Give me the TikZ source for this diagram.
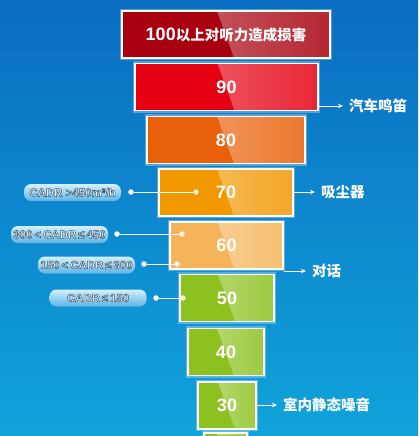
\documentclass[tikz,border=0pt]{standalone}
\usepackage{fontspec}
\setmainfont{Liberation Sans}
\newfontfamily\cjk{Noto Sans CJK SC}
\usepackage{tikz}
\usetikzlibrary{arrows.meta,positioning}

\definecolor{bgtop}{HTML}{0A6DC1}
\definecolor{bgbottom}{HTML}{10A3DA}
\definecolor{lvldark}{HTML}{A8000E}
\definecolor{lvlred}{HTML}{E50012}
\definecolor{lvlorange}{HTML}{E8610A}
\definecolor{lvlamber}{HTML}{F19700}
\definecolor{lvllight}{HTML}{F5B459}
\definecolor{lvlgreen}{HTML}{8CC11F}
\definecolor{pilltop}{HTML}{D6F0FB}
\definecolor{pillbottom}{HTML}{5AB4E6}

\newcommand\outlined[1]{\special{pdf:code q 0.22 0.32 0.42 RG 0.5 w 2 Tr}#1\special{pdf:code Q}}

\begin{document}
\begin{tikzpicture}[x=1pt, y=-1pt,
  lvl/.style={draw=white, line width=1.4pt, fill=#1, text=white, minimum height=47pt, inner sep=0pt,
    font=\fontsize{18}{18}\selectfont\bfseries,
    preaction={draw=white, opacity=.3, line width=4.5pt},
    path picture={\fill[left color=#1!55!white, right color=#1!85!white]
      ([xshift=-9pt]path picture bounding box.north) -- (path picture bounding box.north east)
      -- (path picture bounding box.south east) -- ([xshift=8pt]path picture bounding box.south) -- cycle;}},
  note/.style={text=white, anchor=west, inner sep=1pt, font=\cjk\fontsize{14.5}{15}\selectfont\bfseries},
  arr/.style={white, line width=0.8pt, shorten >=5pt, -{Stealth[length=5pt,width=4.5pt]}},
  pill/.style={rounded corners=7pt, top color=pilltop, bottom color=pillbottom, minimum width=97pt,
    minimum height=17pt, inner sep=0pt, text=white, font=\fontsize{11.5}{12}\selectfont\bfseries},
  dot/.style={circle, fill=white, inner sep=0pt, minimum size=5.5pt},
  link/.style={white, line width=0.8pt}]

\useasboundingbox (0,0) rectangle (418,436);
\clip (0,0) rectangle (418,436);
\shade[top color=bgtop, bottom color=bgbottom] (0,0) rectangle (418,436);

\node[lvl=lvldark, minimum width=208pt] (b100) at (226,34.5) {100\cjk\fontsize{14.5}{15}\selectfont 以上对听力造成损害};
\node[lvl=lvlred, minimum width=183pt] (b90) at (226.5,87) {90};
\node[lvl=lvlorange, minimum width=158pt] (b80) at (226,140) {80};
\node[lvl=lvlamber, minimum width=134pt] (b70) at (226,192.5) {70};
\node[lvl=lvllight, minimum width=113pt] (b60) at (226.5,245.5) {60};
\node[lvl=lvlgreen, minimum width=94pt] (b50) at (227,298) {50};
\node[lvl=lvlgreen, minimum width=76pt] (b40) at (226,352) {40};
\node[lvl=lvlgreen, minimum width=58pt] (b30) at (227,405.5) {30};
\node[lvl=lvlgreen, minimum width=43pt] (b20) at (225.5,456.5) {};

\node[note] (horn) at (348,106) {汽车鸣笛};
\node[note] (vacuum) at (320,192) {吸尘器};
\node[note] (talk) at (311,271) {对话};
\node[note] (quiet) at (282,405) {室内静态噪音};

\draw[arr] (b90.east |- horn) -- (horn);
\draw[arr] (b70.east |- vacuum) -- (vacuum);
\draw[arr] (b60.east |- talk) -- (talk);
\draw[arr] (b30.east |- quiet) -- (quiet);

\node[pill] (cadra) at (72.5,192.5) {\outlined{CADR >450m³/h}};
\node[pill] (cadrb) at (59.5,234.5) {\outlined{300\,<\,CADR\,≤\,450}};
\node[pill] (cadrc) at (86.5,265) {\outlined{150\,<\,CADR\,≤\,300}};
\node[pill] (cadrd) at (98,298) {\outlined{CADR\,≤\,150}};

\node[dot] (ua) at (131,192) {};
\node[dot, opacity=.85] (va) at (196,192) {};
\node[dot] (ub) at (117,234) {};
\node[dot, opacity=.85] (vb) at (182,234) {};
\node[dot] (uc) at (144,264) {};
\node[dot, opacity=.85] (vc) at (177,264) {};
\node[dot] (ud) at (156,298) {};
\node[dot, opacity=.85] (vd) at (183,298) {};

\draw[link] (ua) -- (va);
\draw[link] (ub) -- (vb);
\draw[link] (uc) -- (vc);
\draw[link] (ud) -- (vd);

\end{tikzpicture}
\end{document}
